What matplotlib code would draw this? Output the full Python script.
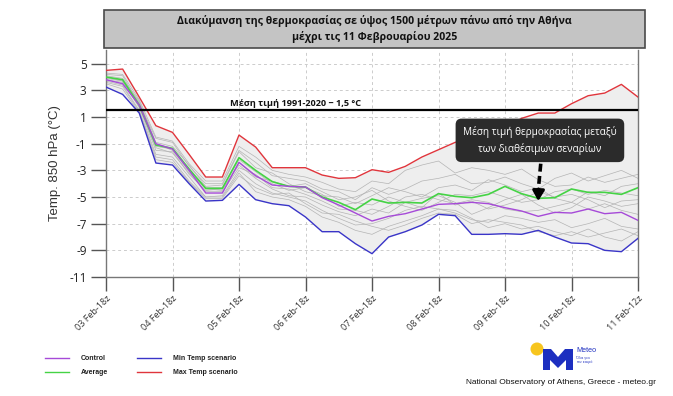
import matplotlib
matplotlib.use("Agg")
import matplotlib.pyplot as plt
from matplotlib.patches import Rectangle, Polygon, Circle
import numpy as np

plt.rcParams['font.family'] = ['Open Sans', 'DejaVu Sans']

# ---------------- data ----------------
tick_labels = ["03 Feb-18z", "04 Feb-18z", "05 Feb-18z", "06 Feb-18z", "07 Feb-18z",
               "08 Feb-18z", "09 Feb-18z", "10 Feb-18z", "11 Feb-12z"]
steps_per_tick = 4

max_temp = [4.5, 4.6, 2.5, 0.35, -0.15, -1.8, -3.5, -3.5, -0.35, -1.25, -2.8, -2.8, -2.8,
            -3.35, -3.6, -3.55, -2.95, -3.15, -2.7, -2.0, -1.45, -0.9, -0.6, -0.25, 0.2,
            0.9, 1.3, 1.3, 2.0, 2.6, 2.8, 3.45, 2.5]
min_temp = [3.25, 2.7, 1.3, -2.45, -2.6, -4.0, -5.3, -5.25, -4.05, -5.2, -5.5, -5.65, -6.5,
            -7.6, -7.6, -8.5, -9.25, -8.0, -7.6, -7.1, -6.3, -6.4, -7.8, -7.8, -7.75,
            -7.8, -7.5, -8.0, -8.45, -8.5, -9.0, -9.1, -8.1]
average = [4.0, 3.8, 1.9, -1.1, -1.35, -2.9, -4.35, -4.35, -2.05, -3.0, -3.85, -4.2, -4.25,
           -5.0, -5.4, -5.95, -5.15, -5.45, -5.4, -5.45, -4.75, -4.95, -5.05, -4.8, -4.2,
           -4.75, -5.1, -5.05, -4.4, -4.65, -4.65, -4.8, -4.3]
control = [3.8, 3.5, 1.9, -1.0, -1.4, -3.0, -4.7, -4.7, -2.4, -3.4, -4.1, -4.2, -4.25,
           -5.05, -5.6, -6.2, -6.8, -6.45, -6.25, -5.9, -5.55, -5.5, -5.4, -5.5, -5.8,
           -6.05, -6.45, -6.15, -6.2, -5.9, -6.25, -6.15, -6.75]

member_01 = [4.2, 4.1, 2.0, -0.6, -0.9, -2.7, -4.0, -4.0, -1.5, -2.4, -3.4, -3.6, -3.8, -4.4, -4.6, -5.2, -4.3,
             -4.8, -4.4, -3.8, -3.6, -3.3, -4.0, -3.9, -3.5, -4.0, -4.4, -3.6, -3.2, -3.8, -3.4, -3.0, -3.6]
member_02 = [3.9, 3.7, 1.7, -1.5, -1.6, -3.3, -4.5, -4.4, -2.6, -3.6, -4.4, -4.9, -5.0, -5.6, -6.1, -6.4, -5.9,
             -6.2, -5.4, -5.1, -4.9, -5.4, -6.3, -5.8, -5.2, -4.8, -5.6, -6.2, -5.8, -5.0, -5.3, -5.7, -5.5]
member_03 = [4.1, 3.9, 2.2, -0.9, -1.2, -2.6, -4.2, -4.1, -1.6, -2.8, -3.2, -4.0, -4.6, -4.9, -5.0, -5.5, -4.9,
             -4.3, -4.6, -5.0, -4.3, -4.1, -4.5, -3.7, -4.1, -4.6, -4.3, -5.1, -5.4, -4.6, -4.9, -4.2, -4.0]
member_04 = [3.7, 3.4, 1.5, -1.8, -2.0, -3.5, -5.0, -4.9, -3.0, -4.0, -4.7, -5.0, -5.3, -6.0, -6.6, -7.1, -7.0,
             -6.6, -6.0, -5.7, -5.9, -6.2, -6.7, -6.9, -6.4, -6.6, -6.9, -6.7, -7.3, -7.0, -6.6, -7.2, -7.4]
member_05 = [4.0, 3.8, 2.1, -1.2, -1.4, -3.0, -4.3, -4.3, -2.2, -3.1, -4.0, -4.5, -4.3, -4.8, -5.7, -5.4, -5.6,
             -5.0, -5.4, -5.8, -4.7, -5.6, -5.3, -5.9, -5.6, -5.2, -4.6, -5.0, -4.8, -5.2, -5.8, -5.3, -5.2]
member_06 = [3.6, 3.3, 1.4, -2.0, -2.2, -3.8, -5.0, -5.0, -3.2, -4.6, -5.0, -5.2, -5.7, -6.5, -6.9, -7.5, -7.8,
             -7.2, -6.8, -6.4, -5.9, -6.0, -6.6, -7.3, -7.0, -7.4, -7.2, -7.6, -7.9, -7.4, -8.0, -8.3, -7.6]
member_07 = [4.3, 4.2, 2.3, -0.5, -0.8, -2.5, -3.8, -3.8, -1.2, -2.0, -3.0, -3.3, -3.5, -3.9, -4.4, -4.6, -3.8,
             -4.0, -3.0, -2.6, -2.3, -3.2, -2.8, -3.0, -3.3, -2.9, -3.7, -4.2, -4.1, -3.5, -3.9, -3.6, -3.3]
member_08 = [3.8, 3.6, 1.8, -1.3, -1.7, -3.2, -4.6, -4.6, -2.8, -3.3, -4.3, -4.4, -4.8, -5.3, -5.9, -6.0, -6.3,
             -5.7, -5.0, -4.8, -5.2, -5.5, -5.2, -5.4, -5.9, -6.1, -6.0, -5.7, -5.4, -5.9, -5.5, -6.0, -6.3]
member_09 = [4.0, 3.7, 1.9, -1.0, -1.5, -3.1, -4.4, -4.5, -2.4, -3.5, -3.8, -4.2, -4.0, -4.6, -5.2, -5.0, -4.5,
             -5.3, -5.7, -6.0, -5.4, -4.8, -4.9, -4.6, -5.0, -5.4, -5.2, -4.6, -4.4, -4.8, -4.5, -4.7, -4.9]
member_10 = [3.5, 3.1, 1.3, -2.2, -2.4, -3.9, -5.1, -5.1, -3.4, -4.3, -4.8, -4.7, -5.5, -6.2, -6.3, -6.8, -7.2,
             -7.5, -7.1, -6.6, -6.2, -6.3, -7.0, -6.7, -6.9, -7.1, -7.6, -7.9, -7.6, -8.0, -7.7, -7.4, -7.9]
members = [member_01, member_02, member_03, member_04, member_05,
           member_06, member_07, member_08, member_09, member_10]

climate_mean = 1.5
y_ticks = [5, 3, 1, -1, -3, -5, -7, -9, -11]

# ---------------- figure ----------------
W, H = 673, 396
fig = plt.figure(figsize=(W / 100, H / 100), dpi=100)

# overlay in pixel coordinates (for title box, legend, logo)
ov = fig.add_axes([0, 0, 1, 1], zorder=0)
ov.set_xlim(0, W)
ov.set_ylim(H, 0)
ov.axis('off')

ax = fig.add_axes([106 / W, 1 - 277 / H, 532 / W, 227 / H], zorder=2)
ax.patch.set_alpha(0)

x = np.arange(len(max_temp))
ax.fill_between(x, min_temp, max_temp, color='#eeeeee', zorder=1, lw=0)
for m in members:
    ax.plot(x, m, color='#b4b4b4', lw=0.5, zorder=2)
ax.plot(x, max_temp, color='#e0353c', lw=1.0, zorder=4)
ax.plot(x, min_temp, color='#3a35c8', lw=1.0, zorder=4)
ax.plot(x, average, color='#45d345', lw=1.2, zorder=5)
ax.plot(x, control, color='#a64ad8', lw=1.0, zorder=5)

ax.axhline(climate_mean, color='black', lw=1.6, zorder=6)
ax.text(11.4, climate_mean + 0.2, "Μέση τιμή 1991-2020 ~ 1,5 °C", fontsize=6.6,
        fontweight='bold', ha='center', va='bottom', color='#111111', zorder=7)

# annotation box and arrow
ax.text(26.1, -0.75, "Μέση τιμή θερμοκρασίας μεταξύ\nτων διαθέσιμων σεναρίων",
        fontsize=7.2, color='white', ha='center', va='center', zorder=8, linespacing=1.5,
        bbox=dict(boxstyle='round,pad=0.75,rounding_size=0.6', fc='#2b2b2b', ec='none'))
ax.plot([26.15, 26.0], [-2.5, -4.5], color='black', lw=2.6, ls=(0, (2.2, 1.2)),
        zorder=8, solid_capstyle='butt', dash_capstyle='butt')
ax.annotate("", xy=(26.0, -5.3), xytext=(26.02, -4.4), zorder=8,
            arrowprops=dict(arrowstyle='-|>,head_length=0.6,head_width=0.35',
                            color='black', lw=2.2, shrinkA=0, shrinkB=0))

n_int = len(tick_labels) - 1
ax.set_xlim(0, n_int * steps_per_tick)
ax.set_ylim(-11, 6.03)
ax.set_xticks(np.arange(len(tick_labels)) * steps_per_tick)
ax.set_xticklabels(tick_labels, rotation=45, ha='right', rotation_mode='anchor',
                   fontsize=6.5, color='#333333')
ax.set_yticks(y_ticks)
ax.set_yticklabels([str(v) for v in y_ticks], fontsize=8.5, color='#222222')
ax.tick_params(axis='y', length=11, width=1, color='#555555', pad=3)
ax.tick_params(axis='x', length=10, width=1, color='#555555', pad=2)
ax.grid(True, color='#cccccc', lw=0.7, ls=(0, (3, 3)), zorder=0)
ax.set_axisbelow(True)
for s in ['left', 'bottom', 'right']:
    ax.spines[s].set_color('#777777')
    ax.spines[s].set_linewidth(1.0)
ax.spines['top'].set_visible(False)
ax.set_ylabel("Temp. 850 hPa (°C)", fontsize=9.5, color='#333333', labelpad=6,
              family=['Liberation Sans', 'DejaVu Sans'])

# title box
ov.add_patch(Rectangle((104, 10), 541, 38, fc='#c4c4c4', ec='#4a4a4a', lw=1.2))
ov.text(374.5, 29, "Διακύμανση της θερμοκρασίας σε ύψος 1500 μέτρων πάνω από την Αθήνα\n"
        "μέχρι τις 11 Φεβρουαρίου 2025", ha='center', va='center', fontsize=7.6,
        fontweight='bold', color='#111111', linespacing=1.55)

# legend
leg_font = ['Liberation Sans', 'DejaVu Sans']
legend_items = [("Control", '#a64ad8', 45, 358), ("Average", '#45d345', 45, 372),
                ("Min Temp scenario", '#3a35c8', 137, 358), ("Max Temp scenario", '#e0353c', 137, 372)]
for label, col, lx, ly in legend_items:
    ov.plot([lx, lx + 24], [ly, ly], color=col, lw=1.0)
    ov.text(lx + 36, ly, label, fontsize=5.0, fontweight='bold', va='center', ha='left',
            family=leg_font, color='#222222')

# logo
ov.add_patch(Circle((537, 349), 6.5, fc='#f7c51e', ec='none'))
ov.add_patch(Polygon([(543, 370), (543, 349), (551, 349), (558, 357), (565, 349), (573, 349),
                      (573, 370), (566, 370), (566, 360), (558, 368), (550, 360), (550, 370)],
                     closed=True, fc='#1d2fc0', ec='none'))
ov.text(576, 351, "Meteo", fontsize=5.2, color='#1d2fc0', va='center', ha='left', family=leg_font)
ov.text(576, 360, "Όλα για\nτον καιρό", fontsize=2.6, color='#1d2fc0', va='center', ha='left',
        linespacing=1.2)
ov.text(561, 382, "National Observatory of Athens, Greece - meteo.gr", fontsize=6.0,
        ha='center', va='center', family=leg_font, color='#111111')

fig.savefig("out.png", dpi=100)
